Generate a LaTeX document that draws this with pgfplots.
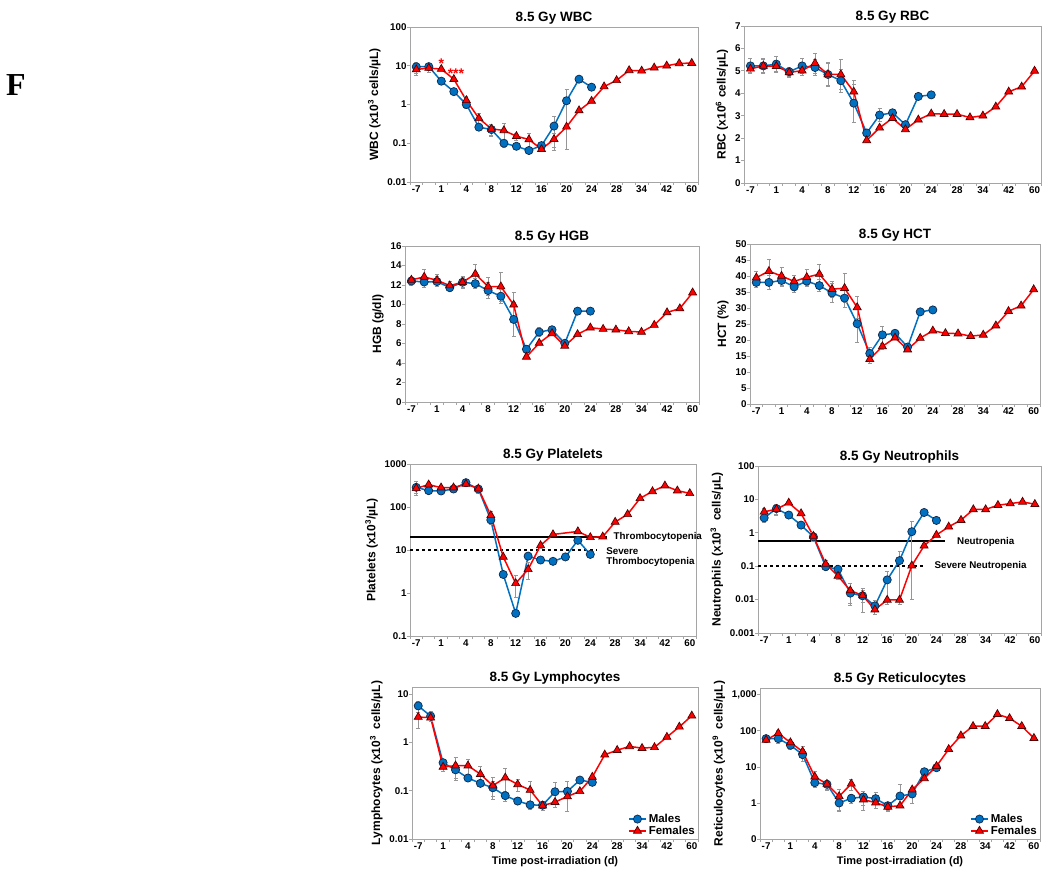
\documentclass[border=0pt]{standalone}
\usepackage{fontspec}
\setmainfont{Liberation Sans}
\newfontfamily\seriffont{Liberation Serif}
\usepackage{pgfplots}
\pgfplotsset{compat=1.18}

\definecolor{mblue}{RGB}{0,112,192}
\definecolor{mbluedark}{RGB}{15,40,75}
\definecolor{fred}{RGB}{255,0,0}
\definecolor{fdark}{RGB}{80,0,0}
\definecolor{framegray}{RGB}{165,165,165}
\definecolor{errgray}{RGB}{150,150,150}

\pgfplotsset{
  panel/.style={
    scale only axis,
    xmin=-0.5, xmax=22.5,
    xtick={0,2,...,22},
    xticklabels={-7,1,4,8,12,16,20,24,28,34,42,60},
    minor xtick={-0.5,0.5,...,22.5},
    minor tick length=3pt, major tick length=0pt,
    tick align=outside,
    xtick pos=bottom, ytick pos=left,
    axis line style={framegray, line width=0.8pt},
    tick style={framegray, line width=0.8pt},
    tick label style={/pgf/number format/assume math mode=true,
                      font=\bfseries\fontsize{9.8}{11}\selectfont, black},
    ylabel style={font=\bfseries\fontsize{12}{14}\selectfont},
    xlabel style={font=\bfseries\fontsize{11}{13}\selectfont},
    title style={font=\bfseries\fontsize{13.5}{16}\selectfont, yshift=-7pt},
    legend style={draw=none, fill=none, at={(1,0)}, anchor=south east,
                  font=\bfseries\fontsize{11.5}{13}\selectfont, inner sep=1pt,
                  row sep=-2pt},
    legend cell align=left,
    clip=false,
  },
  males/.style={mblue, line width=1.5pt, mark=*, mark size=4.1pt,
    mark options={fill=mblue, draw=mbluedark, line width=0.7pt},
    error bars/.cd, y dir=both, y explicit,
    error bar style={errgray, line width=0.8pt},
    error mark options={errgray, rotate=90, mark size=2pt, line width=0.8pt}},
  females/.style={fred, line width=1.5pt, mark=triangle*, mark size=4.6pt,
    mark options={fill=fred, draw=fdark, line width=0.7pt},
    error bars/.cd, y dir=both, y explicit,
    error bar style={errgray, line width=0.8pt},
    error mark options={errgray, rotate=90, mark size=2pt, line width=0.8pt}},
  limit/.style={black, line width=2pt, forget plot},
}

\begin{document}
\begin{tikzpicture}
\useasboundingbox (0pt,0pt) rectangle (1050pt,-877pt);
\node at (16pt,-85pt) {\seriffont\bfseries\fontsize{32}{36}\selectfont F};

% WBC
\begin{axis}[ymode=log, panel, at={(410pt,-182pt)}, anchor=south west,
  width=288pt, height=155pt, ymin=0.01, ymax=100,
  ytick={0.01,0.1,1,10,100}, minor ytick={0.01,0.1,1,10,100},
  yticklabels={0.01,0.1,1,10,100},
  title={8.5 Gy WBC}, ylabel={WBC (x10\textsuperscript{3} cells/µL)}]
\addplot[males] table[x=x,y=y,y error=e] {
x y e
0 9.4 3.0
1 9.5 1.5
2 4.0 0.5
3 2.15 0.3
4 1.0 0.2
5 0.26 0.05
6 0.226 0.08
7 0.10 0.02
8 0.0835 0.01
9 0.065 0.01
10 0.087 0.01
11 0.277 0.21
12 1.25 1.18
13 4.5 0
14 2.8 0
};
\addplot[females] table[x=x,y=y,y error=e] {
x y e
0 8.0 2.5
1 8.7 1.8
2 8.2 0.8
3 4.5 0.5
4 1.28 0.3
5 0.44 0.15
6 0.235 0.08
7 0.214 0.12
8 0.152 0.03
9 0.125 0.05
10 0.07 0.01
11 0.127 0.05
12 0.265 0
13 0.70 0
14 1.23 0
15 2.9 0
16 4.2 0
17 7.6 0
18 7.4 0
19 8.9 0
20 10 0
21 11.5 0
22 11.7 0
};
\node[fred, font=\bfseries\fontsize{14}{14}\selectfont, yshift=-3pt] at (axis cs:2,13.6) {*};
\node[fred, font=\bfseries\fontsize{14}{14}\selectfont, yshift=-3pt] at (axis cs:3.17,7.6) {***};
\end{axis}

% RBC
\begin{axis}[panel, at={(744pt,-183pt)}, anchor=south west,
  width=297pt, height=157pt, ymin=0, ymax=7, ytick={0,1,...,7}, minor ytick={0,1,...,7},
  title={8.5 Gy RBC}, ylabel={RBC (x10\textsuperscript{6} cells/µL)}]
\addplot[males] table[x=x,y=y,y error=e] {
x y e
0 5.22 0.35
1 5.22 0.33
2 5.30 0.35
3 4.96 0.2
4 5.22 0.35
5 5.15 0.35
6 4.84 0.5
7 4.56 0.5
8 3.56 0.85
9 2.23 0.1
10 3.03 0.3
11 3.13 0.1
12 2.60 0.1
13 3.86 0
14 3.93 0
};
\addplot[females] table[x=x,y=y,y error=e] {
x y e
0 5.09 0.15
1 5.22 0.3
2 5.21 0.25
3 4.93 0.2
4 5.01 0.2
5 5.34 0.45
6 4.84 0.55
7 4.84 0.65
8 4.07 0.5
9 1.90 0.1
10 2.46 0
11 2.89 0
12 2.39 0
13 2.82 0
14 3.09 0
15 3.07 0
16 3.07 0
17 2.92 0
18 3.00 0
19 3.40 0
20 4.07 0
21 4.29 0
22 5.00 0
};
\end{axis}

% HGB
\begin{axis}[panel, at={(405pt,-402pt)}, anchor=south west,
  width=294pt, height=156pt, ymin=0, ymax=16, ytick={0,2,...,16}, minor ytick={0,2,...,16},
  title={8.5 Gy HGB}, ylabel={HGB (g/dl)}]
\addplot[males] table[x=x,y=y,y error=e] {
x y e
0 12.41 0.4
1 12.31 0.6
2 12.35 0.5
3 11.73 0.4
4 12.28 0.6
5 12.14 0.5
6 11.43 0.8
7 10.85 0.7
8 8.47 1.7
9 5.41 0.3
10 7.18 0.5
11 7.41 0.2
12 6.02 0.2
13 9.32 0
14 9.32 0
};
\addplot[females] table[x=x,y=y,y error=e] {
x y e
0 12.52 0.3
1 12.83 0.8
2 12.48 0.6
3 11.94 0.4
4 12.28 0.5
5 13.13 1.0
6 11.84 0.9
7 11.84 1.5
8 9.97 1.3
9 4.63 0.2
10 6.05 0
11 7.04 0
12 5.75 0
13 6.94 0
14 7.62 0
15 7.48 0
16 7.41 0
17 7.24 0
18 7.18 0
19 7.89 0
20 9.18 0
21 9.59 0
22 11.22 0
};
\end{axis}

% HCT
\begin{axis}[panel, at={(750pt,-404pt)}, anchor=south west,
  width=290pt, height=160pt, ymin=0, ymax=50, ytick={0,5,...,50}, minor ytick={0,5,...,50},
  title={8.5 Gy HCT}, ylabel={HCT (\%)}]
\addplot[males] table[x=x,y=y,y error=e] {
x y e
0 38.0 1.5
1 38.0 2.3
2 38.6 2.0
3 36.6 1.7
4 38.4 1.5
5 37.0 1.8
6 34.7 3.0
7 33.1 3.0
8 25.1 5.7
9 15.8 2.0
10 21.6 2.8
11 22.1 0.5
12 17.8 1.0
13 28.8 0
14 29.4 0
};
\addplot[females] table[x=x,y=y,y error=e] {
x y e
0 39.5 2.0
1 41.5 3.8
2 40.0 2.8
3 38.3 2.0
4 39.6 2.5
5 40.6 3.0
6 35.9 2.5
7 36.2 4.5
8 30.2 3.3
9 14.0 1.2
10 18.0 1.0
11 20.7 0
12 17.0 0
13 20.6 0
14 22.9 0
15 22.1 0
16 22.0 0
17 21.2 0
18 21.6 0
19 24.5 0
20 29.0 0
21 30.7 0
22 35.8 0
};
\end{axis}

% Platelets
\begin{axis}[ymode=log, panel, at={(410pt,-636pt)}, anchor=south west,
  width=286pt, height=172pt, ymin=0.1, ymax=1000,
  ytick={0.1,1,10,100,1000}, minor ytick={0.1,1,10,100,1000},
  yticklabels={0.1,1,10,100,1000},
  title={8.5 Gy Platelets}, ylabel={Platelets (x10\textsuperscript{3}/µL)}]
\addplot[limit] coordinates {(-0.5,20) (15.35,20)};
\addplot[limit, dashed] coordinates {(-0.5,10) (14.46,10)};
\addplot[males] table[x=x,y=y,y error=e] {
x y e
0 287 100
1 240 30
2 236 30
3 262 30
4 368 30
5 262 50
6 50 10
7 2.7 0.3
8 0.336 0
9 7.2 0.5
10 5.85 0
11 5.45 0
12 6.9 0
13 16.8 0
14 7.9 0
};
\addplot[females] table[x=x,y=y,y error=e] {
x y e
0 272 60
1 331 40
2 282 40
3 282 30
4 343 40
5 267 40
6 64 15
7 6.9 1
8 1.68 0.9
9 3.55 1.5
10 12.8 2
11 23 0
13 27 0
14 19.7 0
15 20.4 0
16 44.8 0
17 67.6 0
18 159 0
19 231 0
20 313 0
21 240 0
22 208 0
};
\node[anchor=west, font=\bfseries\fontsize{9.8}{12}\selectfont] at (axis cs:15.6,20) {Thrombocytopenia};
\node[anchor=west, font=\bfseries\fontsize{9.8}{12}\selectfont] at (axis cs:15.0,9.6) {Severe};
\node[anchor=west, font=\bfseries\fontsize{9.8}{12}\selectfont] at (axis cs:15.0,5.2) {Thrombocytopenia};
\end{axis}

% Neutrophils
\begin{axis}[ymode=log, panel, at={(758pt,-633pt)}, anchor=south west,
  width=283pt, height=167pt, ymin=0.001, ymax=100,
  ytick={0.001,0.01,0.1,1,10,100}, minor ytick={0.001,0.01,0.1,1,10,100},
  yticklabels={0.001,0.01,0.1,1,10,100},
  title={8.5 Gy Neutrophils}, ylabel={Neutrophils (x10\textsuperscript{3}\ \ cells/µL)}]
\addplot[limit] coordinates {(-0.5,0.55) (14.7,0.55)};
\addplot[limit, dashed] coordinates {(-0.5,0.1) (12.9,0.1)};
\addplot[males] table[x=x,y=y,y error=e] {
x y e
0 2.8 0.8
1 5.3 2.0
2 3.4 0.5
3 1.7 0.3
4 0.76 0.2
5 0.097 0.02
6 0.081 0.01
7 0.0156 0.008
8 0.013 0.009
9 0.0065 0.003
10 0.039 0.032
11 0.147 0.14
12 1.08 1.07
13 4.06 0
14 2.35 0
};
\addplot[females] table[x=x,y=y,y error=e] {
x y e
0 4.25 1.0
1 5.1 1.5
2 7.9 1.0
3 3.8 0.5
4 0.8 0.2
5 0.117 0.03
6 0.051 0.01
7 0.0187 0.012
8 0.0133 0.005
9 0.005 0.0015
10 0.0098 0
11 0.0098 0
12 0.104 0
13 0.41 0
14 0.86 0
15 1.52 0
16 2.4 0
17 5.0 0
18 5.0 0
19 6.7 0
20 7.5 0
21 8.4 0
22 7.2 0
};
\node[anchor=west, font=\bfseries\fontsize{9.8}{12}\selectfont] at (axis cs:15.4,0.55) {Neutropenia};
\node[anchor=west, font=\bfseries\fontsize{9.8}{12}\selectfont] at (axis cs:13.56,0.1) {Severe Neutropenia};
\end{axis}

% Lymphocytes
\begin{axis}[ymode=log, panel, at={(412pt,-839pt)}, anchor=south west,
  width=286pt, height=152pt, ymin=0.01, ymax=14,
  ytick={0.01,0.1,1,10}, minor ytick={0.01,0.1,1,10},
  yticklabels={0.01,0.1,1,10},
  title={8.5 Gy Lymphocytes}, ylabel={Lymphocytes (x10\textsuperscript{3}\ \ cells/µL)},
  xlabel={Time post-irradiation (d)}]
\addplot[males] table[x=x,y=y,y error=e] {
x y e
0 5.7 1.5
1 3.5 0.8
2 0.38 0.05
3 0.27 0.09
4 0.183 0.03
5 0.142 0.02
6 0.115 0.04
7 0.079 0.02
8 0.061 0.01
9 0.051 0.01
10 0.050 0.01
11 0.095 0.05
12 0.097 0.06
13 0.166 0
14 0.149 0
};
\addlegendentry{Males}
\addplot[females] table[x=x,y=y,y error=e] {
x y e
0 3.35 1.4
1 3.24 0.5
2 0.31 0.06
3 0.33 0.17
4 0.33 0.12
5 0.22 0.1
6 0.127 0.06
7 0.186 0.1
8 0.135 0.04
9 0.103 0.05
10 0.049 0.01
11 0.058 0
12 0.076 0
13 0.097 0
14 0.192 0
15 0.556 0
16 0.69 0
17 0.826 0
18 0.76 0
19 0.79 0
20 1.29 0
21 2.1 0
22 3.56 0
};
\addlegendentry{Females}
\end{axis}

% Reticulocytes
\begin{axis}[ymode=log, panel, at={(760pt,-839pt)}, anchor=south west,
  width=280pt, height=151pt, ymin=0.1, ymax=1550,
  ytick={0.1,1,10,100,1000}, minor ytick={0.1,1,10,100,1000},
  yticklabels={0,1,10,100,{1,000}},
  title={8.5 Gy Reticulocytes}, ylabel={Reticulocytes (x10\textsuperscript{9}\ \ cells/µL)},
  xlabel={Time post-irradiation (d)}]
\addplot[males] table[x=x,y=y,y error=e] {
x y e
0 61 10
1 61 15
2 40 10
3 22 8
4 3.65 1
5 3.3 1
6 1.0 0.4
7 1.35 0.4
8 1.47 0.6
9 1.32 0.6
10 0.84 0.2
11 1.56 1.7
12 1.78 0.8
13 7.35 0
14 9.5 0
};
\addlegendentry{Males}
\addplot[females] table[x=x,y=y,y error=e] {
x y e
0 56 8
1 86 20
2 47.6 12
3 26.8 10
4 5.35 2
5 3.35 1
6 1.53 0.9
7 3.4 1.2
8 1.24 0.6
9 1.02 0.3
10 0.78 0.2
11 0.84 0.1
12 2.34 0.4
13 4.8 0
14 10.5 0
15 31 0
16 74 0
17 135 0
18 135 0
19 289 0
20 224 0
21 135 0
22 63 0
};
\addlegendentry{Females}
\end{axis}
\end{tikzpicture}
\end{document}
